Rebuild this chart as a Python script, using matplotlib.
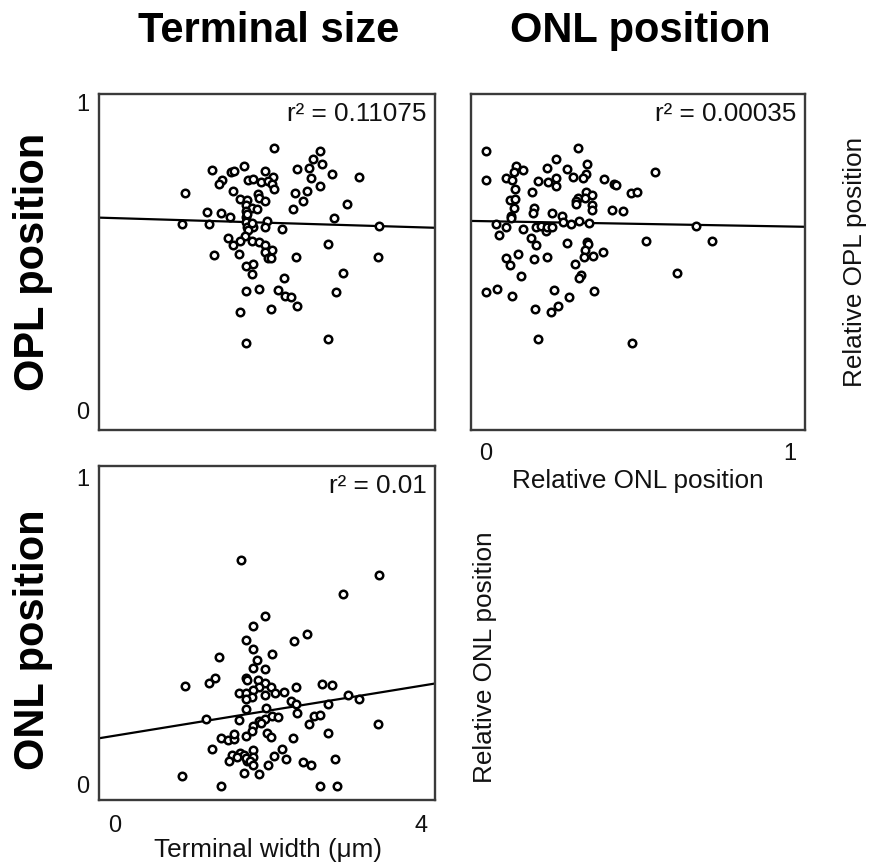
import matplotlib
matplotlib.use("Agg")
import matplotlib.pyplot as plt

plt.rcParams['font.family'] = ['Liberation Sans', 'DejaVu Sans']

# ---------------- data ----------------
# Panel A: terminal width (um) vs relative OPL position
width_a = [2.083, 2.680, 2.593, 2.702, 2.540, 1.264, 1.691, 1.516, 1.551, 1.961,
           2.375, 2.841, 3.190, 2.061, 1.734, 1.808, 1.904, 2.000, 1.394, 1.359,
           2.048, 2.562, 2.680, 2.074, 0.919, 1.547, 2.349, 2.510, 1.874, 1.882,
           1.630, 1.721, 1.965, 2.458, 1.717, 3.037, 1.198, 1.386, 1.795, 1.856,
           2.331, 1.717, 1.503, 2.867, 1.717, 0.871, 1.229, 1.717, 1.983, 3.447,
           1.725, 1.804, 1.961, 2.183, 1.739, 1.699, 1.473, 1.638, 1.791, 1.878,
           1.965, 1.547, 2.789, 2.048, 1.965, 1.625, 1.298, 2.370, 3.442, 2.000,
           2.044, 1.804, 1.712, 1.795, 2.985, 2.214, 1.717, 1.878, 2.126, 2.893,
           2.222, 2.305, 2.375, 2.044, 1.630, 1.717, 2.789, 1.721, 1.795]
opl_a = [0.853, 0.844, 0.818, 0.801, 0.790, 0.781, 0.794, 0.776, 0.778, 0.778,
         0.784, 0.768, 0.761, 0.759, 0.750, 0.752, 0.744, 0.748, 0.750, 0.738,
         0.736, 0.755, 0.731, 0.719, 0.709, 0.713, 0.708, 0.713, 0.703, 0.690,
         0.689, 0.685, 0.681, 0.683, 0.669, 0.671, 0.646, 0.644, 0.658, 0.655,
         0.657, 0.649, 0.631, 0.626, 0.631, 0.607, 0.607, 0.613, 0.617, 0.601,
         0.598, 0.598, 0.596, 0.591, 0.588, 0.569, 0.562, 0.551, 0.553, 0.547,
         0.539, 0.540, 0.543, 0.523, 0.515, 0.508, 0.505, 0.501, 0.499, 0.496,
         0.496, 0.477, 0.472, 0.445, 0.447, 0.431, 0.390, 0.396, 0.392, 0.385,
         0.373, 0.369, 0.342, 0.332, 0.320, 0.220, 0.232, 0.640, 0.611]
fit_a = {"intercept": 0.626, "slope": -0.0075}
r2_a = "0.11075"

# Panel B: relative ONL position vs relative OPL position
onl_b = [0.000, 0.304, 0.000, 0.229, 0.100, 0.093, 0.122, 0.202, 0.266, 0.331,
         0.330, 0.067, 0.087, 0.172, 0.203, 0.229, 0.232, 0.286, 0.318, 0.388,
         0.421, 0.429, 0.476, 0.497, 0.557, 0.095, 0.151, 0.328, 0.348, 0.078,
         0.095, 0.094, 0.157, 0.154, 0.218, 0.302, 0.296, 0.296, 0.327, 0.348,
         0.348, 0.414, 0.450, 0.250, 0.081, 0.084, 0.254, 0.280, 0.305, 0.338,
         0.032, 0.067, 0.121, 0.164, 0.181, 0.198, 0.202, 0.216, 0.043, 0.149,
         0.166, 0.266, 0.333, 0.334, 0.325, 0.323, 0.353, 0.386, 0.525, 0.692,
         0.742, 0.066, 0.104, 0.157, 0.202, 0.078, 0.292, 0.116, 0.313, 0.306,
         0.628, 0.000, 0.037, 0.087, 0.225, 0.274, 0.356, 0.163, 0.238, 0.215,
         0.171, 0.479]
opl_b = [0.844, 0.854, 0.749, 0.818, 0.794, 0.777, 0.781, 0.790, 0.784, 0.801,
         0.769, 0.755, 0.749, 0.747, 0.744, 0.756, 0.731, 0.759, 0.755, 0.753,
         0.737, 0.735, 0.708, 0.712, 0.777, 0.720, 0.712, 0.710, 0.701, 0.684,
         0.687, 0.658, 0.658, 0.642, 0.644, 0.690, 0.682, 0.673, 0.690, 0.669,
         0.653, 0.653, 0.649, 0.634, 0.633, 0.626, 0.615, 0.607, 0.618, 0.609,
         0.606, 0.596, 0.591, 0.596, 0.602, 0.585, 0.598, 0.598, 0.570, 0.562,
         0.540, 0.544, 0.550, 0.541, 0.523, 0.501, 0.504, 0.516, 0.553, 0.601,
         0.552, 0.495, 0.509, 0.494, 0.499, 0.474, 0.478, 0.437, 0.442, 0.431,
         0.449, 0.386, 0.397, 0.373, 0.392, 0.370, 0.390, 0.332, 0.342, 0.320,
         0.232, 0.220]
fit_b = {"intercept": 0.616, "slope": -0.0173}
r2_b = "0.00035"

# Panel C: terminal width (um) vs relative ONL position
width_c = [1.643, 3.447, 2.985, 1.961, 1.800, 2.510, 2.344, 1.712, 1.800, 1.359,
           2.048, 1.856, 1.800, 1.961, 1.307, 1.229, 0.919, 1.712, 1.721, 1.874,
           1.961, 2.035, 1.887, 1.800, 1.625, 1.712, 1.786, 1.961, 2.087, 2.209,
           2.370, 2.706, 2.841, 1.712, 3.041, 3.185, 2.301, 2.370, 2.789, 1.712,
           1.974, 1.194, 1.625, 1.887, 1.965, 2.048, 2.126, 2.375, 2.597, 2.684,
           2.540, 1.800, 1.786, 1.908, 3.442, 1.712, 1.983, 2.039, 1.386, 1.473,
           1.551, 1.551, 2.331, 2.789, 1.264, 1.800, 2.183, 1.525, 1.495, 1.630,
           1.686, 1.725, 1.712, 1.800, 1.765, 1.804, 2.074, 2.000, 2.231, 2.458,
           2.562, 2.871, 1.691, 1.878, 0.871, 1.386, 2.675, 2.898, 1.590]
onl_c = [0.731, 0.681, 0.619, 0.549, 0.517, 0.489, 0.468, 0.471, 0.442, 0.417,
         0.424, 0.406, 0.380, 0.377, 0.346, 0.332, 0.320, 0.346, 0.341, 0.341,
         0.332, 0.319, 0.319, 0.308, 0.300, 0.300, 0.287, 0.292, 0.300, 0.301,
         0.317, 0.327, 0.324, 0.278, 0.293, 0.280, 0.271, 0.262, 0.262, 0.247,
         0.249, 0.213, 0.212, 0.208, 0.215, 0.224, 0.220, 0.233, 0.224, 0.226,
         0.197, 0.193, 0.176, 0.200, 0.197, 0.160, 0.168, 0.157, 0.152, 0.146,
         0.148, 0.165, 0.154, 0.168, 0.118, 0.114, 0.118, 0.097, 0.078, 0.103,
         0.098, 0.078, 0.089, 0.092, 0.078, 0.064, 0.094, 0.065, 0.085, 0.075,
         0.065, 0.083, 0.040, 0.036, 0.030, -0.002, -0.002, -0.002, 0.092]
fit_c = {"intercept": 0.160, "slope": 0.0405}
r2_c = "0.01"

width_ticks = [0, 4]
unit_ticks = [0, 1]

# ---------------- figure ----------------
W, H = 870, 867
fig = plt.figure(figsize=(W / 100, H / 100), dpi=100)


def px_axes(x0, y0, x1, y1):
    return fig.add_axes([x0 / W, 1 - y1 / H, (x1 - x0) / W, (y1 - y0) / H])


spine_color = '#3a3a3a'


def style(ax):
    for s in ax.spines.values():
        s.set_color(spine_color)
        s.set_linewidth(1.7)
    ax.tick_params(length=0, labelsize=17, colors='#111111')


def draw(ax, x, y, fit, r2):
    ax.plot(x, y, linestyle='none', marker='o', ms=5.4, mfc='white',
            mec='black', mew=1.8, zorder=3)
    ax.axline((0, fit["intercept"]), slope=fit["slope"], color='black',
              lw=1.6, zorder=2)
    ax.text(0.975, 0.975, "r\u00b2 = " + r2, transform=ax.transAxes,
            ha='right', va='top', fontsize=18.8, color='#111111')


ax_a = px_axes(99, 94, 435, 430)
ax_b = px_axes(471, 94, 805, 430)
ax_c = px_axes(99, 466, 435, 800)

for ax in (ax_a, ax_b, ax_c):
    style(ax)

draw(ax_a, width_a, opl_a, fit_a, r2_a)
ax_a.set_xlim(-0.209, 4.183)
ax_a.set_ylim(-0.062, 1.029)
ax_a.set_xticks([])
ax_a.set_yticks(unit_ticks)
ax_a.set_yticklabels([str(t) for t in unit_ticks])
ax_a.tick_params(axis='y', pad=7)

draw(ax_b, onl_b, opl_b, fit_b, r2_b)
ax_b.set_xlim(-0.049, 1.049)
ax_b.set_ylim(-0.062, 1.029)
ax_b.set_yticks([])
ax_b.set_xticks(unit_ticks)
ax_b.set_xticklabels([str(t) for t in unit_ticks])
ax_b.tick_params(axis='x', pad=9)

draw(ax_c, width_c, onl_c, fit_c, r2_c)
ax_c.set_xlim(-0.209, 4.183)
ax_c.set_ylim(-0.049, 1.036)
ax_c.set_xticks(width_ticks)
ax_c.set_xticklabels([str(t) for t in width_ticks])
ax_c.set_yticks(unit_ticks)
ax_c.set_yticklabels([str(t) for t in unit_ticks])
ax_c.tick_params(axis='x', pad=11)
ax_c.tick_params(axis='y', pad=7)


def ftext(x, y, s, **kw):
    fig.text(x / W, 1 - y / H, s, **kw)


bold = dict(fontsize=30, fontweight='bold', ha='center', va='center', color='black')
ftext(269, 31, "Terminal size", **bold)
ftext(640, 31, "ONL position", **bold)
ftext(33, 262, "OPL position", rotation=90, **bold)
ftext(33, 640, "ONL position", rotation=90, **bold)

lab = dict(fontsize=18.8, ha='center', va='center', color='#111111')
ftext(638, 481, "Relative ONL position", **lab)
ftext(855, 262, "Relative OPL position", rotation=90, **lab)
ftext(485, 657, "Relative ONL position", rotation=90, **lab)
ftext(268, 850, "Terminal width (\u03bcm)", **lab)

fig.savefig("out.png", dpi=100)
